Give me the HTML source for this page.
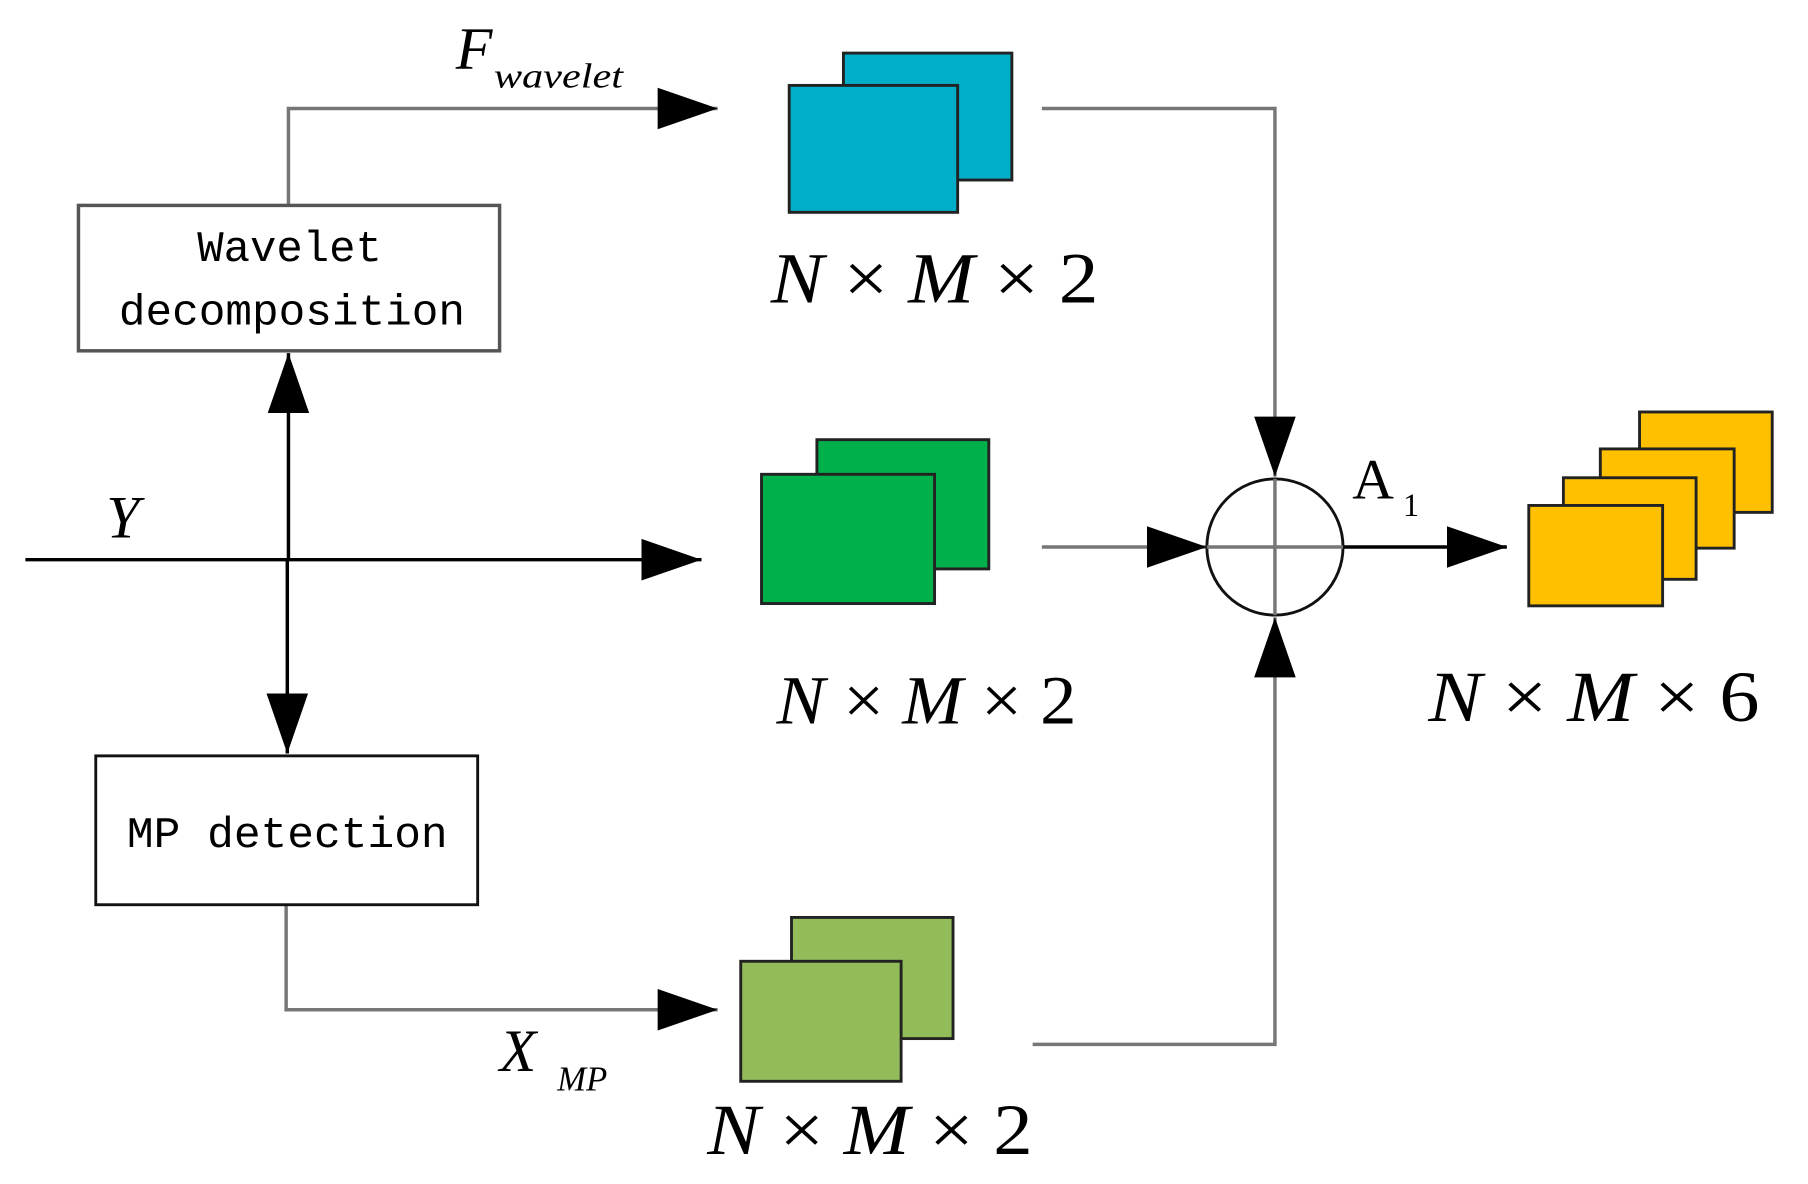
<!DOCTYPE html>
<html><head><meta charset="utf-8"><style>html,body{margin:0;padding:0;background:#fff}svg{display:block}</style></head>
<body>
<svg width="1808" height="1184" viewBox="0 0 1567 1026" preserveAspectRatio="none" xmlns="http://www.w3.org/2000/svg">
<defs>
<marker id="a" markerUnits="userSpaceOnUse" markerWidth="54" markerHeight="40" refX="52" refY="20" orient="auto"><path d="M0,2 L52,20 L0,38 Z" fill="#000"/></marker>
</defs>
<g fill="none" stroke-width="3">
<line x1="22" y1="485" x2="608" y2="485" stroke="#000" marker-end="url(#a)"/>
<line x1="250" y1="485" x2="250" y2="306" stroke="#000" marker-end="url(#a)"/>
<line x1="249" y1="485" x2="249" y2="653" stroke="#000" marker-end="url(#a)"/>
<polyline points="250,178 250,94 622,94" stroke="#777" marker-end="url(#a)"/>
<polyline points="248,784 248,875 622,875" stroke="#777" marker-end="url(#a)"/>
<polyline points="903,94 1105,94 1105,413" stroke="#777" marker-end="url(#a)"/>
<line x1="903" y1="474" x2="1046" y2="474" stroke="#777" marker-end="url(#a)"/>
<polyline points="895,905 1105,905 1105,535" stroke="#777" marker-end="url(#a)"/>
<line x1="1164" y1="474" x2="1306" y2="474" stroke="#000" marker-end="url(#a)"/>
<circle cx="1105" cy="474" r="59" stroke="#111" stroke-width="2.5"/>
<line x1="1046" y1="474" x2="1164" y2="474" stroke="#777"/>
<line x1="1105" y1="415" x2="1105" y2="533" stroke="#777"/>
</g>
<rect x="68" y="178" width="365" height="126" fill="#fff" stroke="#555" stroke-width="3"/>
<rect x="83" y="655" width="331" height="129" fill="#fff" stroke="#111" stroke-width="2.5"/>
<g font-family="Liberation Mono, DejaVu Sans Mono, monospace" font-size="38" fill="#000" lengthAdjust="spacingAndGlyphs">
<text x="171" y="226" textLength="160" lengthAdjust="spacingAndGlyphs">Wavelet</text>
<text x="103" y="281" textLength="300" lengthAdjust="spacingAndGlyphs">decomposition</text>
<text x="110" y="734" textLength="278" lengthAdjust="spacingAndGlyphs">MP detection</text>
</g>
<g stroke="#222" stroke-width="2.5">
<rect x="731" y="46" width="146" height="110" fill="#00AEC8"/>
<rect x="684" y="74" width="146" height="110" fill="#00AEC8"/>
<rect x="708" y="381" width="149" height="112" fill="#00B04A"/>
<rect x="660" y="411" width="150" height="112" fill="#00B04A"/>
<rect x="686" y="795" width="140" height="105" fill="#92BC5A"/>
<rect x="642" y="833" width="139" height="104" fill="#92BC5A"/>
<rect x="1421" y="357" width="115" height="87" fill="#FFC000"/>
<rect x="1387" y="389" width="116" height="86" fill="#FFC000"/>
<rect x="1355" y="414" width="115" height="88" fill="#FFC000"/>
<rect x="1325" y="438" width="116" height="87" fill="#FFC000"/>
</g>
<g font-family="Liberation Serif, serif" fill="#000">
<text x="668" y="262" font-size="62" textLength="284" lengthAdjust="spacingAndGlyphs"><tspan font-style="italic">N</tspan> × <tspan font-style="italic">M</tspan> × 2</text>
<text x="673" y="627" font-size="60" textLength="260" lengthAdjust="spacingAndGlyphs"><tspan font-style="italic">N</tspan> × <tspan font-style="italic">M</tspan> × 2</text>
<text x="613" y="1000" font-size="62" textLength="282" lengthAdjust="spacingAndGlyphs"><tspan font-style="italic">N</tspan> × <tspan font-style="italic">M</tspan> × 2</text>
<text x="1238" y="625" font-size="62" textLength="287" lengthAdjust="spacingAndGlyphs"><tspan font-style="italic">N</tspan> × <tspan font-style="italic">M</tspan> × 6</text>
<text x="395" y="60" font-size="52" font-style="italic">F</text>
<text x="428" y="76" font-size="30" font-style="italic" textLength="112" lengthAdjust="spacingAndGlyphs">wavelet</text>
<text x="92" y="466" font-size="52" font-style="italic">Y</text>
<text x="433" y="928" font-size="52" font-style="italic">X</text>
<text x="483" y="945" font-size="30" font-style="italic">MP</text>
<text x="1172" y="432" font-size="50">A</text>
<text x="1216" y="447" font-size="28">1</text>
</g>
</svg>
</body></html>
